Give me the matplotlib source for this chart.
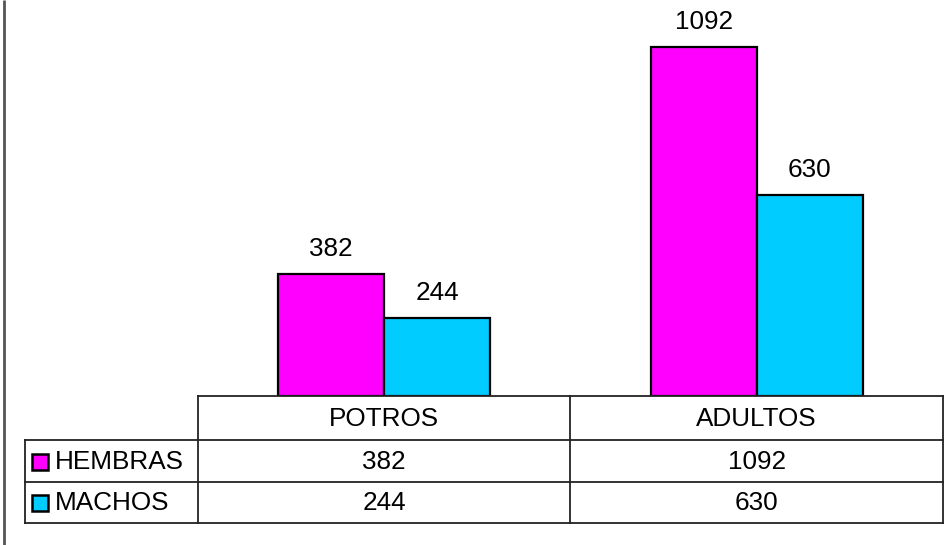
import matplotlib
matplotlib.use("Agg")
import matplotlib.pyplot as plt
from matplotlib.patches import Rectangle
import numpy as np

plt.rcParams['font.family'] = ['Liberation Sans', 'DejaVu Sans']

categories = ["POTROS", "ADULTOS"]
series_names = ["HEMBRAS", "MACHOS"]
hembras = [382, 1092]
machos = [244, 630]
colors = ["#FF00FF", "#00CCFF"]

W, H = 945, 545
fig = plt.figure(figsize=(W / 100, H / 100), dpi=100)

# plot area in pixels
px_left, px_right, px_top, px_bottom = 198, 943, 0, 396
ax = fig.add_axes([px_left / W, (H - px_bottom) / H, (px_right - px_left) / W, (px_bottom - px_top) / H])
ax.set_xlim(-0.5, len(categories) - 0.5)
ax.set_ylim(0, 1239)
ax.axis('off')

bw = 0.285
x = np.arange(len(categories))
fs = 18.8
for i, (vals, col) in enumerate(zip([hembras, machos], colors)):
    off = (i - 0.5) * bw
    bars = ax.bar(x + off, vals, width=bw, color=col, edgecolor='black', linewidth=1.6, zorder=3)
    for b, v in zip(bars, vals):
        ax.annotate(str(v), (b.get_x() + b.get_width() / 2, v), xytext=(0, 13), textcoords='offset points',
                    ha='center', va='baseline', fontsize=fs, color='black', clip_on=False)

# overlay axes in pixel coordinates for the data table and frame
tx = fig.add_axes([0, 0, 1, 1])
tx.set_xlim(0, W)
tx.set_ylim(H, 0)
tx.axis('off')

# category boundaries in pixels from the bar axes
fig.canvas.draw()
def to_px(xd):
    return ax.transData.transform((xd, 0))[0]
bounds = [to_px(b - 0.5) for b in range(len(categories) + 1)]

lc = '#222222'
lw = 1.3
row_y = [396, 440, 482, 523]
label_left = 25
# horizontal lines
tx.plot([bounds[0], bounds[-1]], [row_y[0], row_y[0]], color=lc, lw=lw)
for yy in row_y[1:]:
    tx.plot([label_left, bounds[-1]], [yy, yy], color=lc, lw=lw)
# vertical lines
for bx in bounds:
    tx.plot([bx, bx], [row_y[0], row_y[-1]], color=lc, lw=lw)
tx.plot([label_left, label_left], [row_y[1], row_y[-1]], color=lc, lw=lw)

# header text
for j, c in enumerate(categories):
    cx = (bounds[j] + bounds[j + 1]) / 2
    tx.text(cx, (row_y[0] + row_y[1]) / 2 + 1, c, ha='center', va='center', fontsize=fs)

# data rows
for i, (name, vals, col) in enumerate(zip(series_names, [hembras, machos], colors)):
    cy = (row_y[i + 1] + row_y[i + 2]) / 2 + 1
    tx.add_patch(Rectangle((31.5, cy - 8.5), 16, 16, facecolor=col, edgecolor='black', linewidth=1.8))
    tx.text(55, cy, name, ha='left', va='center', fontsize=fs)
    for j, v in enumerate(vals):
        cx = (bounds[j] + bounds[j + 1]) / 2
        tx.text(cx, cy, str(v), ha='center', va='center', fontsize=fs)

# left frame line
tx.plot([4, 4], [0, H], color='#555555', lw=2, solid_capstyle='butt')

fig.savefig("out.png", dpi=100)
